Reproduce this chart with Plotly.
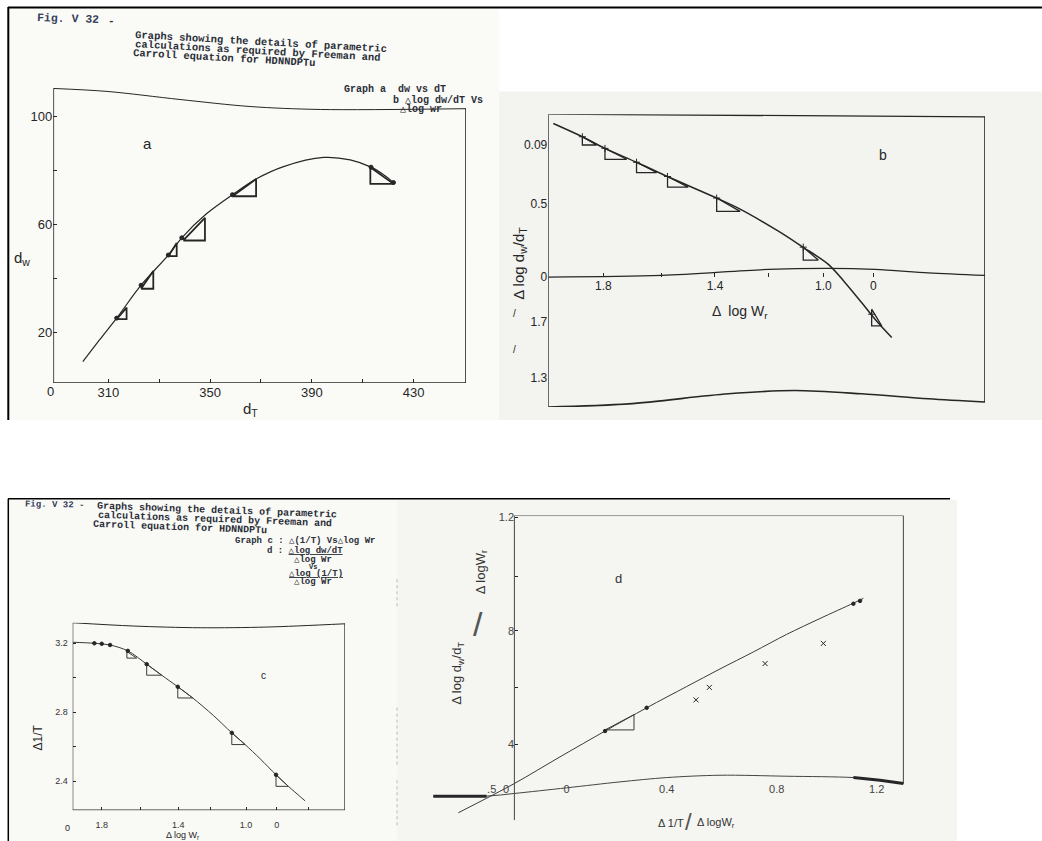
import plotly.graph_objects as go

W, H = 1042, 841

# ---------------- Graph a : d_w vs d_T ----------------
a_dT = [300.0, 306.7, 313.3, 322.9, 333.6, 338.9, 348.7, 358.8, 368.1, 378.9, 394.6, 405.1, 413.3, 418.2, 422.1]
a_dw = [9.2, 17.4, 25.3, 37.5, 48.7, 55.1, 64.1, 71.1, 76.9, 81.5, 84.9, 84.0, 81.3, 78.5, 75.6]
a_pt_dT = [313.3, 322.9, 333.6, 338.9, 358.8, 413.3, 422.1]
a_pt_dw = [25.3, 37.5, 48.7, 55.1, 71.1, 81.3, 75.6]
a_tri_x0 = [313.3, 322.9, 333.6, 339.5, 358.8, 413.0]
a_tri_x1 = [317.2, 327.7, 336.9, 348.0, 368.1, 422.1]
a_tri_y0 = [24.9, 36.2, 48.3, 54.1, 70.5, 81.3]
a_tri_y1 = [29.2, 42.8, 53.2, 62.5, 76.9, 75.1]
a_xtick_vals = [310, 350, 390, 430]
a_xtick_text = ["310", "350", "390", "430"]
a_xminor = [330, 370, 410]
a_ytick_vals = [20, 60, 100]
a_ytick_text = ["20", "60", "100"]
a_yminor = [40, 80]

# ---------------- Graph b : dlog dw/dT vs dlog Wr ----------------
b_x = [1.979, 1.875, 1.794, 1.681, 1.570, 1.394, 1.310, 1.173, 1.090, 0.994, 0.934, 0.875, 0.827, 0.767]
b_y = [0.1042, 0.0952, 0.0873, 0.0779, 0.0682, 0.0536, 0.0461, 0.0311, 0.0209, 0.0086, -0.0038, -0.0173, -0.0286, -0.0410]
b_pt_x = [1.875, 1.794, 1.681, 1.570, 1.394, 1.084, 0.839]
b_pt_y = [0.0952, 0.0873, 0.0779, 0.0682, 0.0536, 0.0203, -0.0252]
b_tri_x0 = [1.875, 1.794, 1.681, 1.570, 1.394, 1.084, 0.839]
b_tri_x1 = [1.824, 1.716, 1.609, 1.496, 1.310, 1.030, 0.803]
b_tri_y0 = [0.0952, 0.0873, 0.0779, 0.0682, 0.0536, 0.0203, -0.0218]
b_tri_y1 = [0.0896, 0.0799, 0.0709, 0.0610, 0.0446, 0.0115, -0.0331]
b_xtick_vals = [1.8, 1.4, 1.012, 0.833]
b_xtick_text = ["1.8", "1.4", "1.0", "0"]
b_xminor = [1.591, 1.209]
b_ytick_vals = [0.09, 0.0497, 0.0, -0.0304, -0.0686]
b_ytick_text = ["0.09", "0.5", "0", "1.7", "1.3"]

# ---------------- Graph c : d(1/T) vs dlog Wr ----------------
c_x = [1.957, 1.840, 1.755, 1.659, 1.557, 1.476, 1.389, 1.308, 1.196, 1.097, 1.025, 0.944, 0.858, 0.791, 0.701]
c_y = [3.206, 3.200, 3.190, 3.156, 3.079, 3.015, 2.948, 2.883, 2.781, 2.681, 2.613, 2.531, 2.438, 2.371, 2.287]
c_pt_x = [1.840, 1.800, 1.755, 1.659, 1.557, 1.389, 1.097, 0.858]
c_pt_y = [3.200, 3.197, 3.190, 3.156, 3.079, 2.948, 2.681, 2.438]
c_tri_x0 = [1.664, 1.557, 1.389, 1.097, 0.858]
c_tri_x1 = [1.611, 1.476, 1.308, 1.025, 0.791]
c_tri_y0 = [3.152, 3.079, 2.948, 2.681, 2.438]
c_tri_y1 = [3.114, 3.015, 2.883, 2.613, 2.371]
c_xtick_vals = [1.8, 1.386, 1.020, 0.854]
c_xtick_text = ["1.8", "1.4", "1.0", "0"]
c_xminor = [1.593, 1.214, 0.683]
c_ytick_vals = [3.2, 2.8, 2.4]
c_ytick_text = ["3.2", "2.8", "2.4"]
c_yminor = [3.0, 2.6]

# ---------------- Graph d ----------------
d_x = [-0.381, -0.171, 0.000, 0.169, 0.325, 0.475, 0.600, 0.725, 0.850, 0.975, 1.100, 1.1375]
d_y = [0.159, 0.262, 0.356, 0.447, 0.529, 0.604, 0.666, 0.726, 0.788, 0.844, 0.898, 0.915]
d_dot_x = [0.169, 0.325, 1.100, 1.125]
d_dot_y = [0.447, 0.529, 0.896, 0.906]
d_cross_x = [0.51, 0.56, 0.769, 0.9875]
d_cross_y = [0.557, 0.601, 0.685, 0.756]
d_tri_x0 = [0.169]
d_tri_x1 = [0.2775]
d_tri_y0 = [0.451]
d_tri_y1 = [0.505]
d_xtick_vals = [-0.256, -0.2025, 0.025, 0.4, 0.8125, 1.1875]
d_xtick_text = [".5", "0", "0", "0.4", "0.8", "1.2"]
d_ytick_vals = [1.2, 0.8, 0.4]
d_ytick_text = ["1.2", "8", "4"]
d_yminor = [0.993, 0.601]

INK = "#262626"
TXT = "#2b2f38"
SANS = "Liberation Sans, Arial, sans-serif"
MONO = "Liberation Mono, Courier New, monospace"

fig = go.Figure()


def tri_coords(x0s, x1s, y0s, y1s):
    xs, ys = [], []
    for x0, x1, y0, y1 in zip(x0s, x1s, y0s, y1s):
        if y1 > y0:
            cx, cy = x1, y0
        else:
            cx, cy = x0, y1
        xs += [x0, cx, x1, x0, None]
        ys += [y0, cy, y1, y0, None]
    return xs, ys


def line(xs, ys, xa, ya, width=1.2, color=INK, shape="spline"):
    fig.add_trace(go.Scatter(x=xs, y=ys, mode="lines", xaxis=xa, yaxis=ya,
                             line=dict(color=color, width=width, shape=shape, smoothing=0.9),
                             hoverinfo="skip", showlegend=False))


def pts(xs, ys, xa, ya, size=4, symbol="circle", color=INK):
    fig.add_trace(go.Scatter(x=xs, y=ys, mode="markers", xaxis=xa, yaxis=ya,
                             marker=dict(color=color, size=size, symbol=symbol,
                                         line=dict(color=color, width=1)),
                             hoverinfo="skip", showlegend=False))


# ---- frames (scan-distorted box outlines) ----
# a
line([288.4, 450.6, 450.6], [1.2, 1.2, 103.0], "x", "y", 1.6, INK, "linear")
line([288.4, 288.4], [1.2, 110.5], "x", "y", 1.6, INK, "linear")
line([288.4, 309.5, 338.2, 365.7, 393.3, 450.6], [110.5, 109.4, 106.4, 103.8, 102.7, 103.0], "x", "y", 1.0)
# b
line([1.997, 0.433], [0.1105, 0.1087], "x2", "y2", 1.3, INK, "linear")
line([1.997, 1.997], [-0.0882, 0.1105], "x2", "y2", 1.3, INK, "linear")
line([0.433, 0.433], [-0.0848, 0.1087], "x2", "y2", 1.6, INK, "linear")
line([1.997, 1.710, 1.352, 1.113, 0.875, 0.636, 0.433],
     [-0.0882, -0.0860, -0.0792, -0.0770, -0.0792, -0.0826, -0.0848], "x2", "y2", 1.6)
line([1.997, 1.591, 1.209, 0.994, 0.827, 0.636, 0.433],
     [0.0, 0.0011, 0.0052, 0.0059, 0.0052, 0.0029, 0.0011], "x2", "y2", 1.3)
# c
line([1.957, 0.485, 0.485], [2.233, 2.233, 3.313], "x3", "y3", 1.3, INK, "linear")
line([1.957, 1.957], [2.233, 3.319], "x3", "y3", 1.1, INK, "linear")
line([1.957, 1.629, 1.268, 0.908, 0.485], [3.319, 3.300, 3.290, 3.294, 3.313], "x3", "y3", 1.0)
# d
line([-0.171, 1.2875, 1.2875], [1.207, 1.207, 0.262], "x4", "y4", 1.0, "#444", "linear")
line([-0.171, -0.171], [0.133, 1.207], "x4", "y4", 1.0, "#444", "linear")
line([-0.475, -0.275, -0.171, 0.025, 0.225, 0.4, 0.6, 0.85, 1.1, 1.2, 1.2875],
     [0.2175, 0.2175, 0.2269, 0.2468, 0.2678, 0.2830, 0.2912, 0.2877, 0.2830, 0.2737, 0.262],
     "x4", "y4", 1.0, "#444")
line([-0.475, -0.275], [0.2175, 0.2175], "x4", "y4", 3.0, INK, "linear")
line([1.1, 1.2, 1.2875], [0.2830, 0.2737, 0.262], "x4", "y4", 3.0, INK, "linear")

# ---- data curves ----
line(a_dT, a_dw, "x", "y", 1.2)
tx, ty = tri_coords(a_tri_x0, a_tri_x1, a_tri_y0, a_tri_y1)
line(tx, ty, "x", "y", 1.8, INK, "linear")
pts(a_pt_dT, a_pt_dw, "x", "y", 4)

line(b_x, b_y, "x2", "y2", 1.5)
tx, ty = tri_coords(b_tri_x0, b_tri_x1, b_tri_y0, b_tri_y1)
line(tx, ty, "x2", "y2", 1.3, INK, "linear")
pts(b_pt_x, b_pt_y, "x2", "y2", 5, "cross-thin")

line(c_x, c_y, "x3", "y3", 1.0, "#3a3a3a")
tx, ty = tri_coords(c_tri_x0, c_tri_x1, c_tri_y0, c_tri_y1)
line(tx, ty, "x3", "y3", 1.0, "#3a3a3a", "linear")
pts(c_pt_x, c_pt_y, "x3", "y3", 3.5)

line(d_x, d_y, "x4", "y4", 1.0, "#3a3a3a")
tx, ty = tri_coords(d_tri_x0, d_tri_x1, d_tri_y0, d_tri_y1)
line(tx, ty, "x4", "y4", 1.0, "#3a3a3a", "linear")
pts(d_dot_x, d_dot_y, "x4", "y4", 3.5)
pts(d_cross_x, d_cross_y, "x4", "y4", 5, "x-thin")

# ---- axes ----
base = dict(showgrid=False, zeroline=False, showline=False, ticks="inside", ticklen=4,
            tickcolor=INK, tickwidth=1, tickmode="array", fixedrange=True)


def ax(minor_vals=None, mlen=4, **kw):
    d = dict(base)
    d.update(kw)
    if minor_vals:
        d["minor"] = dict(tickmode="array", tickvals=minor_vals, ticks="inside",
                          ticklen=mlen, tickcolor=INK, tickwidth=1, showgrid=False)
    return d


fig.update_layout(
    width=W, height=H, margin=dict(l=0, r=0, t=0, b=0),
    paper_bgcolor="white", plot_bgcolor="rgba(0,0,0,0)", showlegend=False,
    xaxis=ax(a_xminor, domain=[53.3 / W, 466 / W], range=[288.4, 450.6], anchor="y",
             tickvals=a_xtick_vals, ticktext=a_xtick_text,
             tickfont=dict(family=SANS, size=13, color=INK)),
    yaxis=ax(a_yminor, domain=[1 - 380.9 / H, 1 - 83.5 / H], range=[1.2, 111], anchor="x",
             tickvals=a_ytick_vals, ticktext=a_ytick_text,
             tickfont=dict(family=SANS, size=13, color=INK)),
    xaxis2=ax(b_xminor, domain=[548.3 / W, 985 / W], range=[1.997, 0.433], anchor="free",
              position=1 - 274.3 / H, tickvals=b_xtick_vals, ticktext=b_xtick_text,
              tickfont=dict(family=SANS, size=12, color=INK)),
    yaxis2=ax(None, domain=[1 - 405 / H, 1 - 110.7 / H], range=[-0.0882, 0.1105], anchor="x2",
              tickvals=b_ytick_vals, ticktext=b_ytick_text, ticks="",
              tickfont=dict(family=SANS, size=12, color=INK)),
    xaxis3=ax(c_xminor, 3, domain=[72.7 / W, 345 / W], range=[1.957, 0.485], anchor="y3",
              tickvals=c_xtick_vals, ticktext=c_xtick_text, ticklen=3, ticklabelstandoff=8,
              tickfont=dict(family=SANS, size=9, color="#333")),
    yaxis3=ax(c_yminor, 3, domain=[1 - 810 / H, 1 - 621.7 / H], range=[2.233, 3.319], anchor="x3",
              tickvals=c_ytick_vals, ticktext=c_ytick_text, ticklen=3, ticklabelstandoff=4,
              tickfont=dict(family=SANS, size=9, color="#333")),
    xaxis4=ax(None, domain=[421.3 / W, 906.7 / W], range=[-0.52, 1.30], anchor="free",
              position=1 - 781 / H, tickvals=d_xtick_vals, ticktext=d_xtick_text, ticks="",
              tickfont=dict(family=SANS, size=11, color="#444")),
    yaxis4=ax(d_yminor, 3, domain=[1 - 823.7 / H, 1 - 514 / H], range=[0.12, 1.207], anchor="free",
              position=514 / W, tickvals=d_ytick_vals, ticktext=d_ytick_text, ticklen=3,
              tickfont=dict(family=SANS, size=11, color="#444")),
)

# ---- scan backgrounds and page rules ----
shapes = []


def rect(x0, y0, x1, y1, color):
    shapes.append(dict(type="rect", xref="paper", yref="paper", layer="below",
                       x0=x0 / W, x1=x1 / W, y0=1 - y1 / H, y1=1 - y0 / H,
                       fillcolor=color, line=dict(width=0)))


def rule(x0, y0, x1, y1, width, color="black", dash="solid"):
    shapes.append(dict(type="line", xref="paper", yref="paper",
                       x0=x0 / W, x1=x1 / W, y0=1 - y0 / H, y1=1 - y1 / H,
                       line=dict(color=color, width=width, dash=dash)))


rect(9, 4, 499, 418, "#fafaf7")
rect(499, 88, 1042, 418, "#f3f3f0")
rect(9, 498, 397, 841, "#f9f9f6")
rect(397, 498, 957, 841, "#f5f5f2")
rule(8, 3.5, 1042, 3.5, 2)
rule(8.3, 3, 8.3, 418, 2)
rule(8, 497, 950, 497, 1.5)
rule(8.3, 497, 8.3, 841, 1.5)
rule(397, 578, 397, 606, 1, "#b8b8b8", "dot")
rule(397, 707, 397, 767, 1, "#b8b8b8", "dot")
rule(397, 780, 397, 828, 1, "#b8b8b8", "dot")
fig.update_layout(shapes=shapes)

# ---- text ----
anns = []


def txt(text, px, py, size, angle=0, font=SANS, color=INK, xanchor="center"):
    anns.append(dict(text=text, x=px / W, y=1 - py / H, xref="paper", yref="paper",
                     showarrow=False, textangle=angle, xanchor=xanchor, yanchor="middle",
                     font=dict(family=font, size=size, color=color)))


# header, top
txt("<b>Fig. V 32</b>", 68, 15, 11.5, 2, MONO, "#34405a")
txt("<b>-</b>", 111, 17, 11, 0, MONO, TXT)
txt("<b>Graphs showing the details of parametric</b>", 261, 38, 10.5, 3.2, MONO, TXT)
txt("<b>calculations as required by Freeman and</b>", 258, 47, 10.5, 3.2, MONO, TXT)
txt("<b>Carroll equation for HDNNDPTu</b>", 224, 54, 10.5, 3.2, MONO, TXT)
txt("<b>Graph a  dw vs dT</b>", 395, 86, 10, 0, MONO, TXT)
txt("<b>b △log dw/dT Vs</b>", 438, 97, 10, 0, MONO, TXT)
txt("<b>△log wr</b>", 421, 106, 10, 0, MONO, TXT)

# graph a labels
txt("0", 50, 389, 13)
txt("d<sub>T</sub>", 250, 407, 15)
txt("d<sub>w</sub>", 22, 256, 15)
txt("a", 147, 140, 15)

# graph b labels
txt("b", 883, 152, 14)
txt("Δ  log W<sub>r</sub>", 740, 309, 14)
txt("Δ log d<sub>w</sub>/d<sub>T</sub>", 520, 261, 15, -90)
txt("/", 514, 311, 10)
txt("/", 514, 347, 10)

# header, bottom
txt("<b>Fig. V 32 -</b>", 54, 503, 9, 1, MONO, "#34405a")
txt("<b>Graphs showing the details of parametric</b>", 217, 509, 10, 2.1, MONO, TXT)
txt("<b>calculations as required by Freeman and</b>", 215, 518, 10, 2.1, MONO, TXT)
txt("<b>Carroll equation for HDNNDPTu</b>", 180, 526, 10, 2.1, MONO, TXT)
txt("<b>Graph c : △(1/T) Vs△log Wr</b>", 305, 540, 9, 0, MONO, TXT)
txt("<b>d : <u>△log dw/dT</u></b>", 305, 550, 9, 0, MONO, TXT)
txt("<b>△log Wr</b>", 313, 558.5, 9, 0, MONO, TXT)
txt("<b>Vs</b>", 313, 565.5, 7, 0, MONO, TXT)
txt("<b><u>△log (1/T)</u></b>", 316, 572.5, 9, 0, MONO, TXT)
txt("<b>△log Wr</b>", 313, 581, 9, 0, MONO, TXT)

# graph c labels
txt("0", 67, 828, 9)
txt("c", 263, 675, 10)
txt("Δ1/T", 38, 737, 12, -90)
txt("Δ log W<sub>r</sub>", 182, 835, 9)

# graph d labels
txt("d", 618, 577, 13, 0, SANS, "#333")
txt("Δ log d<sub>w</sub>/d<sub>T</sub>", 458, 673, 13, -90, SANS, "#333")
txt("/", 478, 623, 34, 0, SANS, "#555")
txt("Δ logW<sub>r</sub>", 481, 571, 13, -90, SANS, "#333")
txt("Δ 1/T", 671, 823, 11, 0, SANS, "#333")
txt("/", 688, 821, 24, 0, SANS, "#555")
txt("Δ logW<sub>r</sub>", 716, 823, 11, 0, SANS, "#333")

fig.update_layout(annotations=anns)

fig.write_html("out.html",
               config={"displayModeBar": False, "staticPlot": True},
               post_script="document.body.style.margin='0px';"
                           "document.body.style.padding='0px';"
                           "document.body.style.overflow='hidden';")
